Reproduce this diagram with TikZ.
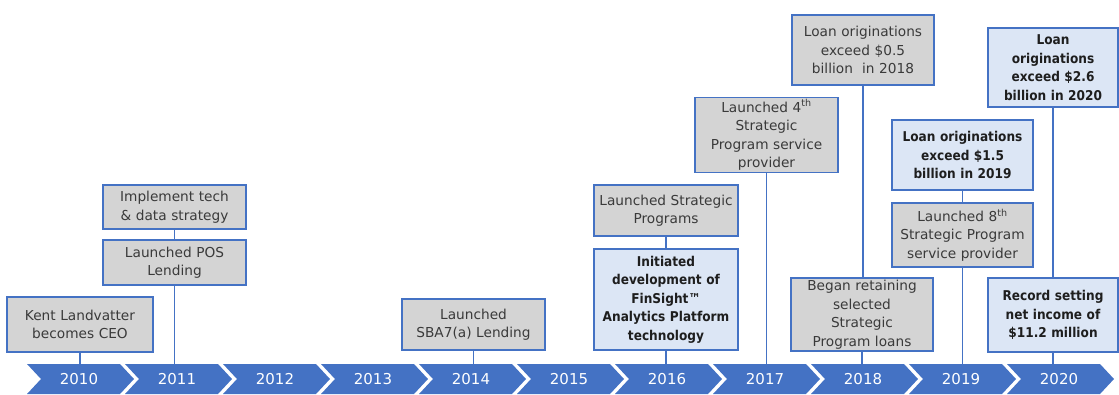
\documentclass[tikz,border=0pt]{standalone}
\usepackage{fontspec}
\setmainfont{DejaVu Sans}[BoldFeatures={FakeStretch=0.9}]
\definecolor{bl}{HTML}{4472C4}
\definecolor{boxgray}{HTML}{D4D4D4}
\definecolor{boxblue}{HTML}{DCE6F5}
\definecolor{txtgray}{HTML}{3A3A3A}
\definecolor{txtdark}{HTML}{1E1E1E}
\begin{document}
\begin{tikzpicture}[x=1pt,y=-1pt,
  base/.style={draw=bl, line width=1.8pt, align=center, inner sep=2pt},
  graybox/.style={base, fill=boxgray, text=txtgray, font=\fontsize{13.7}{18.5}\selectfont},
  bluebox/.style={base, fill=boxblue, text=txtdark, font=\fontsize{13.5}{18.5}\selectfont\bfseries},
  link/.style={draw=bl, line width=1.8pt},
  year/.style={text=white, font=\fontsize{15}{18}\selectfont}]
\useasboundingbox (0,0) rectangle (1119,394);
\coordinate (bar) at (0,364);
% chevrons
\foreach \i/\yr in {0/2010,1/2011,2/2012,3/2013,4/2014,5/2015,6/2016,7/2017,8/2018,9/2019,10/2020}{
  \fill[bl] ({27+98*\i},364) -- ++(93,0) -- ++(14,15) -- ++(-14,15) -- ++(-93,0) -- ++(14,-15) -- cycle;
  \node[year] (y\yr) at ({79+98*\i},379.5) {\yr};
}
% boxes
\node[graybox, minimum width=146pt, minimum height=55pt, text width=140pt] (A) at (80,324.5) {Kent Landvatter\\becomes CEO};
\node[graybox, minimum width=143pt, minimum height=45pt, text width=137pt] (B) at (174.5,262.5) {Launched POS\\Lending};
\node[graybox, minimum width=143pt, minimum height=44pt, text width=137pt] (C) at (174.5,207) {Implement tech\\\& data strategy};
\node[graybox, minimum width=143pt, minimum height=51pt, text width=137pt] (D) at (473.5,324.5) {Launched\\SBA7(a) Lending};
\node[graybox, minimum width=144pt, minimum height=51pt, text width=138pt] (E) at (666,210.5) {Launched Strategic\\Programs};
\node[bluebox, minimum width=144pt, minimum height=101pt, text width=138pt] (F) at (666,299.5) {Initiated\\development of\\FinSight™\\Analytics Platform\\technology};
\node[graybox, minimum width=143pt, minimum height=74pt, text width=137pt] (G) at (766.5,135) {Launched 4\textsuperscript{th}\\Strategic\\Program service\\provider};
\node[graybox, minimum width=142pt, minimum height=70pt, text width=136pt] (H) at (863,50) {Loan originations\\exceed \$0.5\\billion~ in 2018};
\node[graybox, minimum width=142pt, minimum height=73pt, text width=136pt] (I) at (862,314.5) {Began retaining\\selected\\Strategic\\Program loans};
\node[bluebox, minimum width=141pt, minimum height=70pt, text width=135pt] (J) at (962.5,155) {Loan originations\\exceed \$1.5\\billion in 2019};
\node[graybox, minimum width=141pt, minimum height=64pt, text width=135pt] (K) at (962.5,235) {Launched 8\textsuperscript{th}\\Strategic Program\\service provider};
\node[bluebox, minimum width=130pt, minimum height=79pt, text width=124pt] (L) at (1053,67.5) {Loan\\originations\\exceed \$2.6\\billion in 2020};
\node[bluebox, minimum width=130pt, minimum height=74pt, text width=124pt] (M) at (1053,315) {Record setting\\net income of\\\$11.2 million};
% connectors
\draw[link] (A.south) -- (A.south |- bar);
\draw[link] (C.south) -- (B.north);
\draw[link] (B.south) -- (B.south |- bar);
\draw[link] (D.south) -- (D.south |- bar);
\draw[link] (E.south) -- (F.north);
\draw[link] (F.south) -- (F.south |- bar);
\draw[link] (G.south) -- (G.south |- bar);
\draw[link] (H.south) -- (H.south |- I.north);
\draw[link] (I.south) -- (I.south |- bar);
\draw[link] (J.south) -- (K.north);
\draw[link] (K.south) -- (K.south |- bar);
\draw[link] (L.south) -- (M.north);
\draw[link] (M.south) -- (M.south |- bar);
\end{tikzpicture}
\end{document}
